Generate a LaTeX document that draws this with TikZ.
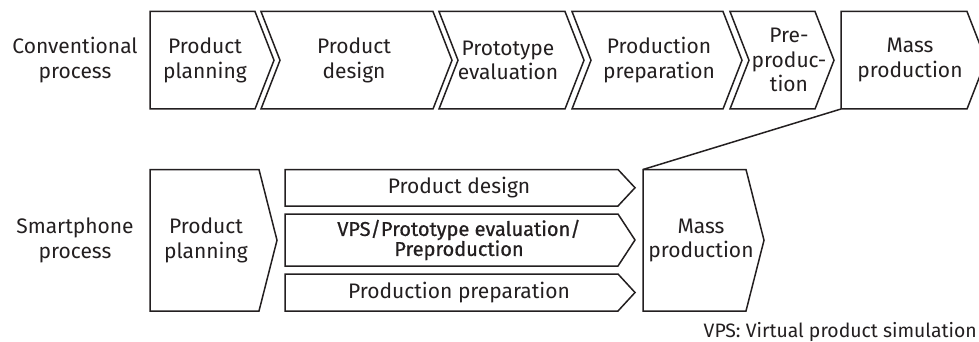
\documentclass[tikz,border=0pt]{standalone}
\usepackage{fontspec}
\setmainfont{Fira Sans}
\newfontfamily\heavyfont{Fira Sans}[FakeBold=0.7]
\definecolor{ink}{HTML}{231F20}
\tikzset{
  stage/.style={draw=ink, line width=1.5pt, fill=white, line join=miter},
  lbl/.style={text=ink, align=center, inner sep=0pt,
    font=\fontsize{21}{24.5}\selectfont},
  barlbl/.style={text=ink, align=center, inner sep=0pt,
    font=\heavyfont\fontsize{20}{20}\selectfont},
  link/.style={draw=ink, line width=1.5pt},
}
\begin{document}
\begin{tikzpicture}[x=1pt, y=-1pt]
\useasboundingbox (0,0) rectangle (979,342);

% ---- conventional process (top row) ----
\def\ta{11.5}\def\tb{109}\def\tm{60.25}
\draw[stage] (150,\ta) -- (255,\ta) -- (274,\tm) -- (255,\tb) -- (150,\tb) -- cycle;
\draw[stage] (261,\ta) -- (433,\ta) -- (452,\tm) -- (433,\tb) -- (261,\tb) -- (280,\tm) -- cycle;
\draw[stage] (439,\ta) -- (565,\ta) -- (584,\tm) -- (565,\tb) -- (439,\tb) -- (458,\tm) -- cycle;
\draw[stage] (572,\ta) -- (723,\ta) -- (742,\tm) -- (723,\tb) -- (572,\tb) -- (591,\tm) -- cycle;
\draw[stage] (730,\ta) -- (815,\ta) -- (834,\tm) -- (815,\tb) -- (730,\tb) -- (749,\tm) -- cycle;
\draw[stage] (841,\ta) -- (967,\ta) -- (986,\tm) -- (967,\tb) -- (841,\tb) -- cycle;
\coordinate (massTopCorner) at (841,\tb);

\node[lbl] (convlbl) at (75,\tm) {Conventional\\process};
\node[lbl] (cplan) at (205,\tm) {Product\\planning};
\node[lbl] (cdesign) at (354,\tm) {Product\\design};
\node[lbl] (cproto) at (508,\tm) {Prototype\\evaluation};
\node[lbl] (cprep) at (659,\tm) {Production\\preparation};
\node[lbl] (cpre) at (789,\tm) {Pre-\\produc-\\tion};
\node[lbl] (cmass) at (910,\tm) {Mass\\production};

% ---- smartphone process (bottom row) ----
\def\ba{169.5}\def\bb{311}\def\bm{240.25}
\draw[stage] (150,\ba) -- (259,\ba) -- (277,\bm) -- (259,\bb) -- (150,\bb) -- cycle;
\draw[stage] (285,\ba) -- (618,\ba) -- (635,187.75) -- (618,206) -- (285,206) -- cycle;
\draw[stage] (285,214) -- (618,214) -- (635,240) -- (618,266) -- (285,266) -- cycle;
\draw[stage] (285,274) -- (618,274) -- (635,292.5) -- (618,311) -- (285,311) -- cycle;
\draw[stage] (643,\ba) -- (746,\ba) -- (764,\bm) -- (746,\bb) -- (643,\bb) -- cycle;
\coordinate (massBotCorner) at (643,\ba);

\node[lbl] (smartlbl) at (75,\bm) {Smartphone\\process};
\node[lbl] (splan) at (206,\bm) {Product\\planning};
\node[lbl] (sdesign) at (459,187.75) {Product design};
\node[barlbl] (svps) at (459,240) {VPS/Prototype evaluation/\\Preproduction};
\node[lbl] (sprep) at (459,292.5) {Production preparation};
\node[lbl] (smass) at (701,\bm) {Mass\\production};

% zoom line between the two mass-production stages
\draw[link] (massTopCorner) -- (massBotCorner);

\node[lbl, anchor=east, font=\fontsize{19.4}{22}\selectfont] (note) at (977,332)
  {VPS: Virtual product simulation};
\end{tikzpicture}
\end{document}
